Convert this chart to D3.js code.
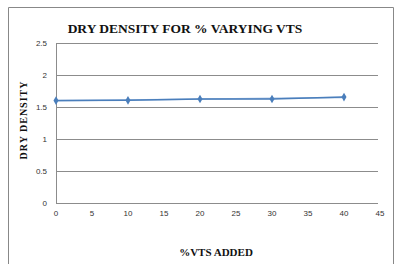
<!DOCTYPE html>
<html>
<head>
<meta charset="utf-8">
<script src="https://cdn.jsdelivr.net/npm/d3@7"></script>
<style>
  body { margin: 0; background: #fff; }
</style>
</head>
<body>
<div id="chart"></div>
<script>
// data
let vts_added = [0, 10, 20, 30, 40]
let dry_density = [1.60, 1.605, 1.625, 1.625, 1.655]
let x_ticks = [0, 5, 10, 15, 20, 25, 30, 35, 40, 45]
let y_ticks = [0, 0.5, 1, 1.5, 2, 2.5]

let width = 399
let height = 264

// plot area
let p_left = 56, p_right = 380, p_top = 43, p_bottom = 203

let x = d3.scaleLinear().domain([0, 45]).range([p_left, p_right])
let y = d3.scaleLinear().domain([0, 2.5]).range([p_bottom, p_top])

let svg = d3.select("#chart").append("svg")
  .attr("width", width)
  .attr("height", height)

// outer frame (bottom edge is cut off in the picture)
svg.append("path")
  .attr("d", `M8.5,${height + 2} V7.5 H393.5 V${height + 2}`)
  .attr("fill", "none")
  .attr("stroke", "#888")
  .attr("stroke-width", 1)

// horizontal gridlines
svg.append("g")
  .selectAll("line")
  .data(y_ticks.filter(d => d > 0))
  .join("line")
  .attr("x1", p_left).attr("x2", p_right - 2)
  .attr("y1", d => Math.round(y(d)) + 0.5)
  .attr("y2", d => Math.round(y(d)) + 0.5)
  .attr("stroke", "#8c8c8c")

// axes lines
svg.append("line")
  .attr("x1", p_left + 0.5).attr("x2", p_left + 0.5)
  .attr("y1", p_top).attr("y2", p_bottom)
  .attr("stroke", "#8c8c8c")
svg.append("line")
  .attr("x1", p_left).attr("x2", p_right - 2)
  .attr("y1", p_bottom + 0.5).attr("y2", p_bottom + 0.5)
  .attr("stroke", "#8c8c8c")

// tick labels
svg.append("g")
  .selectAll("text")
  .data(y_ticks)
  .join("text")
  .attr("x", p_left - 9)
  .attr("y", d => y(d) + 3)
  .attr("text-anchor", "end")
  .attr("font-family", "Liberation Sans, Arial")
  .attr("font-size", 8)
  .attr("fill", "#333")
  .text(d => d)

svg.append("g")
  .selectAll("text")
  .data(x_ticks)
  .join("text")
  .attr("x", d => x(d))
  .attr("y", p_bottom + 13)
  .attr("text-anchor", "middle")
  .attr("font-family", "Liberation Sans, Arial")
  .attr("font-size", 8)
  .attr("fill", "#333")
  .text(d => d)

// linear trend line
let mx = d3.mean(vts_added), my = d3.mean(dry_density)
let slope = d3.sum(vts_added, (d, i) => (d - mx) * (dry_density[i] - my)) / d3.sum(vts_added, d => (d - mx) ** 2)
let icpt = my - slope * mx
let xs = d3.extent(vts_added)
svg.append("line")
  .attr("x1", x(xs[0])).attr("x2", x(xs[1]))
  .attr("y1", y(icpt + slope * xs[0]))
  .attr("y2", y(icpt + slope * xs[1]))
  .attr("stroke", "#9dbbe0")
  .attr("stroke-width", 1.5)

// series line
let pts = vts_added.map((d, i) => [d, dry_density[i]])
svg.append("path")
  .datum(pts)
  .attr("d", d3.line().x(d => x(d[0])).y(d => y(d[1])))
  .attr("fill", "none")
  .attr("stroke", "#4a7ebb")
  .attr("stroke-width", 1.5)

// diamond markers
svg.append("g")
  .selectAll("path")
  .data(pts)
  .join("path")
  .attr("transform", d => `translate(${x(d[0])},${y(d[1])})`)
  .attr("d", d3.symbol(d3.symbolDiamond, 22))
  .attr("fill", "#4a7ebb")

// titles
svg.append("text")
  .attr("x", 185)
  .attr("y", 33)
  .attr("text-anchor", "middle")
  .attr("font-family", "Liberation Serif, Times New Roman")
  .attr("font-weight", "bold")
  .attr("font-size", 13.5)
  .attr("fill", "#111")
  .text("DRY DENSITY FOR % VARYING VTS")

svg.append("text")
  .attr("transform", "translate(27,120) rotate(-90)")
  .attr("text-anchor", "middle")
  .attr("font-family", "Liberation Serif, Times New Roman")
  .attr("font-weight", "bold")
  .attr("font-size", 10)
  .attr("letter-spacing", 1)
  .attr("fill", "#111")
  .text("DRY DENSITY")

svg.append("text")
  .attr("x", 216)
  .attr("y", 256)
  .attr("text-anchor", "middle")
  .attr("font-family", "Liberation Serif, Times New Roman")
  .attr("font-weight", "bold")
  .attr("font-size", 11)
  .attr("fill", "#111")
  .text("%VTS ADDED")
</script>
</body>
</html>
